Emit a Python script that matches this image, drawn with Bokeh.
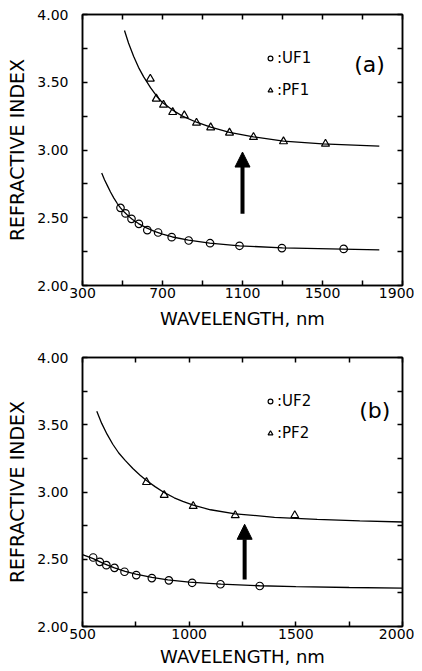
from bokeh.plotting import figure
from bokeh.layouts import column
from bokeh.models import (Range1d, LinearAxis, FixedTicker, PrintfTickFormatter,
                          Legend, LegendItem, Label, Arrow, NormalHead)
from bokeh.core.properties import value
from bokeh.embed import file_html
from bokeh.resources import INLINE

# ---------------- data: panel (a) ----------------
uf1_wl = [490, 515, 545, 582, 624, 678, 746, 831, 938, 1085, 1297, 1606]
uf1_n = [2.573, 2.532, 2.492, 2.455, 2.409, 2.391, 2.357, 2.332, 2.312, 2.293, 2.276, 2.270]
pf1_wl = [639, 669, 705, 751, 809, 870, 941, 1035, 1155, 1305, 1515]
pf1_n = [3.525, 3.378, 3.333, 3.279, 3.255, 3.200, 3.166, 3.127, 3.095, 3.063, 3.045]
fit1u_wl = [396, 410, 425, 440, 457, 474, 490, 510, 530, 550, 580, 620, 660, 700, 750, 830, 936, 1085, 1300, 1600, 1784]
fit1u_n = [2.830, 2.780, 2.735, 2.690, 2.645, 2.605, 2.573, 2.540, 2.512, 2.487, 2.457, 2.425, 2.400, 2.380, 2.358, 2.335, 2.313, 2.293, 2.278, 2.268, 2.263]
fit1p_wl = [510, 530, 556, 580, 606, 640, 672, 700, 750, 800, 870, 941, 1035, 1155, 1305, 1500, 1784]
fit1p_n = [3.882, 3.790, 3.690, 3.610, 3.540, 3.460, 3.395, 3.350, 3.295, 3.250, 3.205, 3.168, 3.130, 3.097, 3.066, 3.045, 3.028]

# ---------------- data: panel (b) ----------------
uf2_wl = [550, 581, 612, 650, 697, 752, 825, 905, 1014, 1147, 1331]
uf2_n = [2.513, 2.481, 2.456, 2.436, 2.407, 2.382, 2.360, 2.343, 2.325, 2.314, 2.301]
pf2_wl = [800, 883, 1019, 1216, 1495]
pf2_n = [3.073, 2.977, 2.895, 2.826, 2.826]
fit2u_wl = [500, 550, 600, 650, 700, 750, 825, 900, 1000, 1150, 1330, 1500, 1750, 2000]
fit2u_n = [2.535, 2.505, 2.468, 2.436, 2.410, 2.390, 2.365, 2.347, 2.330, 2.315, 2.303, 2.296, 2.290, 2.285]
fit2p_wl = [567, 590, 615, 642, 670, 700, 736, 770, 800, 840, 884, 930, 970, 1019, 1100, 1216, 1400, 1600, 1800, 2000]
fit2p_n = [3.600, 3.510, 3.430, 3.355, 3.290, 3.235, 3.175, 3.125, 3.085, 3.040, 2.995, 2.957, 2.930, 2.902, 2.868, 2.838, 2.812, 2.796, 2.785, 2.777]

# ---------------- axes / ticks ----------------
xa_labels = [300, 700, 1100, 1500, 1900]
xa_minor = [500, 900, 1300, 1700]
xb_labels = [500, 1000, 1500, 2000]
xb_minor = [750, 1250, 1750]
y_labels = [2.0, 2.5, 3.0, 3.5, 4.0]
y_minor = [2.25, 2.75, 3.25, 3.75]

# annotations (data coordinates)
arrow_a = (1100, 2.53, 2.985)
arrow_b = (1260, 2.35, 2.76)
tag_a = (1735, 3.63, "(a)")
tag_b = (1870, 3.607, "(b)")

FONT = "DejaVu Sans"


def style_axis(ax, ticks, minor, labels=True, fmt=None, title=None, title_size="18px"):
    ax.ticker = FixedTicker(ticks=ticks, minor_ticks=minor)
    ax.major_tick_in = 5
    ax.major_tick_out = 0
    ax.minor_tick_in = 5
    ax.minor_tick_out = 0
    ax.major_tick_line_width = 1.5
    ax.minor_tick_line_width = 1.5
    ax.axis_line_width = 1.5
    ax.axis_line_color = "black"
    if labels:
        ax.major_label_text_font = FONT
        ax.major_label_text_font_size = "14px"
        ax.major_label_text_color = "black"
        if fmt is not None:
            ax.formatter = fmt
    else:
        ax.major_label_text_font_size = "0px"
        ax.major_label_text_color = None
        ax.major_label_standoff = 0
    if title:
        ax.axis_label = title
        ax.axis_label_text_font = FONT
        ax.axis_label_text_font_size = title_size
        ax.axis_label_text_font_style = "normal"
        ax.axis_label_text_color = "black"


def panel(xr, xt, xm, width, height, top, bottom, right, frame_h, title_standoff,
          fits, uf, pf, names, arrow, tag):
    p = figure(width=width, height=height, x_range=Range1d(*xr), y_range=Range1d(2, 4),
               output_backend="svg", toolbar_location=None,
               min_border_left=82, min_border_right=right,
               min_border_top=top, min_border_bottom=bottom)
    p.grid.visible = False
    p.outline_line_color = "black"
    p.outline_line_width = 1.5
    p.background_fill_color = "white"
    p.border_fill_color = "white"

    style_axis(p.xaxis[0], xt, xm, fmt=PrintfTickFormatter(format="%d"),
               title="WAVELENGTH, nm", title_size="18px")
    p.xaxis[0].major_label_standoff = 2
    p.xaxis[0].axis_label_standoff = title_standoff
    style_axis(p.yaxis[0], y_labels, y_minor, fmt=PrintfTickFormatter(format="%.2f"),
               title="REFRACTIVE INDEX", title_size="19px")
    p.yaxis[0].major_label_standoff = 14
    p.yaxis[0].axis_label_standoff = 6

    ta = LinearAxis()
    style_axis(ta, xt, xm, labels=False)
    p.add_layout(ta, "above")
    ra = LinearAxis()
    style_axis(ra, y_labels, y_minor, labels=False)
    p.add_layout(ra, "right")

    for wl, n in fits:
        p.line(wl, n, line_color="black", line_width=1.3)

    r_u = p.scatter(uf[0], uf[1], marker="circle", size=7.5, fill_color=None,
                    line_color="black", line_width=1.2)
    r_p = p.scatter(pf[0], pf[1], marker="triangle", size=8, fill_color=None,
                    line_color="black", line_width=1.2)

    leg = Legend(items=[LegendItem(label=value(names[0]), renderers=[r_u]),
                        LegendItem(label=value(names[1]), renderers=[r_p])],
                 location=(182, frame_h - 86), orientation="vertical",
                 glyph_width=12, glyph_height=20, label_standoff=1, label_height=20,
                 spacing=12, padding=0, margin=0,
                 border_line_alpha=0, background_fill_alpha=0,
                 label_text_font=FONT, label_text_font_size="15px",
                 label_text_color="black")
    p.add_layout(leg)

    p.add_layout(Arrow(end=NormalHead(size=15, fill_color="black", line_color="black"),
                       x_start=arrow[0], y_start=arrow[1], x_end=arrow[0], y_end=arrow[2],
                       line_width=4, line_color="black"))
    p.add_layout(Label(x=tag[0], y=tag[1], text=tag[2], text_font=FONT,
                       text_font_size="22px", text_align="center",
                       text_baseline="middle", text_color="black"))
    return p


# panel (a): frame 82..405 x 14..285 ; panel (b): frame 82..402 x 357..626
pa = panel((300, 1900), xa_labels, xa_minor, 414, 340, 14, 55, 9, 271, 7,
           [(fit1u_wl, fit1u_n), (fit1p_wl, fit1p_n)],
           (uf1_wl, uf1_n), (pf1_wl, pf1_n), (":UF1", ":PF1"), arrow_a, tag_a)
pb = panel((500, 2000), xb_labels, xb_minor, 414, 330, 17, 44, 12, 269, 4,
           [(fit2u_wl, fit2u_n), (fit2p_wl, fit2p_n)],
           (uf2_wl, uf2_n), (pf2_wl, pf2_n), (":UF2", ":PF2"), arrow_b, tag_b)

layout = column(pa, pb)
open("out.html", "w").write(file_html(layout, INLINE))
